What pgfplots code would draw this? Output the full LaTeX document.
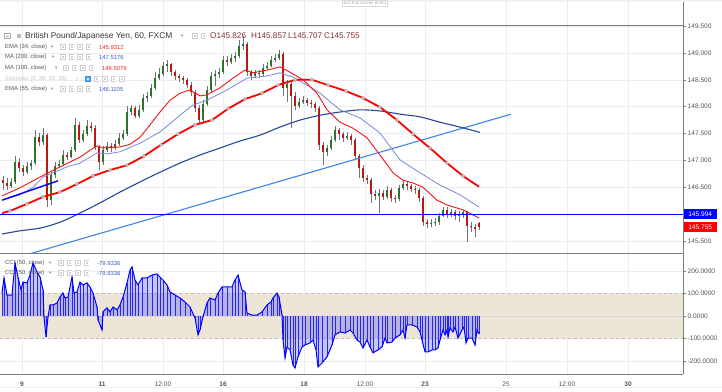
\documentclass[border=0pt]{standalone}
\usepackage{pgfplots}
\pgfplotsset{compat=1.18}
\usepackage{pgfplotstable}
\usepackage{fontspec}
\setmainfont{Liberation Sans}
\newfontfamily\dejavu{DejaVu Sans}

\definecolor{gridc}{RGB}{236,236,236}
\definecolor{framec}{RGB}{125,125,125}
\definecolor{labc}{RGB}{85,85,85}
\definecolor{upc}{RGB}{45,115,45}
\definecolor{dnc}{RGB}{185,25,20}
\definecolor{wickc}{RGB}{115,115,117}
\definecolor{ma200c}{RGB}{40,72,160}
\definecolor{ema55c}{RGB}{115,140,215}
\definecolor{emac}{RGB}{240,20,20}
\definecolor{tlc}{RGB}{60,135,230}
\definecolor{bandc}{RGB}{236,228,211}
\definecolor{valred}{RGB}{235,40,40}
\definecolor{valblue}{RGB}{60,90,190}
\definecolor{ohlcc}{RGB}{130,50,50}
\definecolor{iconc}{RGB}{208,208,208}
\definecolor{eyec}{RGB}{60,150,230}

\pgfplotstableread{
x o h l c
3 146.63 146.71 146.45 146.58
7 146.58 146.67 146.45 146.52
11 146.52 146.67 146.49 146.60
15 146.60 147.08 146.56 146.97
19 146.97 147.04 146.78 146.86
23 146.86 146.91 146.71 146.78
27 146.78 146.97 146.75 146.90
31 146.90 147.01 146.82 146.95
35 146.95 147.57 146.91 147.43
39 147.43 147.51 147.27 147.34
43 147.34 147.60 147.29 147.47
47 147.47 147.51 146.13 146.26
51 146.26 146.78 146.17 146.73
55 146.73 146.97 146.67 146.90
59 146.90 147.01 146.86 146.93
63 146.93 147.19 146.90 147.10
67 147.10 147.16 147.01 147.06
71 147.06 147.25 147.04 147.19
75 147.19 147.79 147.16 147.66
79 147.66 147.71 147.32 147.38
83 147.38 147.57 147.34 147.49
87 147.49 147.75 147.45 147.64
91 147.64 147.71 147.53 147.60
95 147.60 147.66 147.19 147.25
99 147.25 147.29 146.82 146.97
103 146.97 147.27 146.91 147.19
107 147.19 147.34 147.16 147.27
111 147.27 147.32 147.16 147.23
115 147.23 147.38 147.19 147.30
119 147.30 147.51 147.27 147.42
123 147.42 147.57 147.38 147.49
127 147.49 148.01 147.45 147.90
131 147.90 148.03 147.84 147.97
135 147.97 148.01 147.79 147.83
139 147.83 148.03 147.79 147.94
143 147.94 148.23 147.90 148.16
147 148.16 148.27 148.09 148.20
151 148.20 148.42 148.16 148.35
155 148.35 148.64 148.31 148.53
159 148.53 148.72 148.50 148.61
163 148.61 148.83 148.57 148.76
167 148.76 148.87 148.64 148.79
171 148.79 148.81 148.57 148.64
175 148.64 148.68 148.50 148.57
179 148.57 148.61 148.46 148.53
183 148.53 148.57 148.42 148.50
187 148.50 148.53 148.35 148.40
191 148.40 148.46 148.20 148.27
195 148.27 148.31 147.90 147.97
199 147.97 148.03 147.68 147.75
203 147.75 148.12 147.71 148.05
207 148.05 148.38 148.01 148.31
211 148.31 148.64 148.27 148.57
215 148.57 148.68 148.38 148.61
219 148.61 148.72 148.53 148.64
223 148.64 148.94 148.61 148.87
227 148.87 148.94 148.76 148.83
231 148.83 148.98 148.79 148.90
235 148.90 149.02 148.83 148.94
239 148.94 149.24 148.90 149.13
243 149.13 149.31 149.05 149.17
247 149.17 149.20 148.57 148.64
251 148.64 148.68 148.50 148.57
255 148.57 148.68 148.53 148.63
259 148.63 148.68 148.53 148.61
263 148.61 148.79 148.57 148.72
267 148.72 148.83 148.68 148.76
271 148.76 148.94 148.74 148.87
275 148.87 148.98 148.83 148.90
279 148.90 149.05 148.87 148.98
283 148.98 149.02 148.20 148.35
287 148.35 148.50 148.09 148.42
291 148.42 148.46 147.60 148.20
295 148.20 148.27 147.94 148.01
299 148.01 148.16 147.97 148.09
303 148.09 148.20 148.05 148.12
307 148.12 148.16 148.01 148.07
311 148.07 148.12 147.97 148.05
315 148.05 148.09 147.90 147.97
319 147.97 148.01 147.19 147.29
323 147.29 147.34 146.91 147.16
327 147.16 147.29 147.08 147.23
331 147.23 147.45 147.20 147.38
335 147.38 147.64 147.34 147.57
339 147.57 147.60 147.38 147.49
343 147.49 147.53 147.34 147.42
347 147.42 147.53 147.38 147.45
351 147.45 147.49 147.29 147.38
355 147.38 147.42 147.01 147.08
359 147.08 147.12 146.67 146.86
363 146.86 146.91 146.60 146.67
367 146.67 146.73 146.56 146.63
371 146.63 146.67 146.21 146.37
375 146.37 146.45 146.26 146.34
379 146.34 146.47 146.02 146.39
383 146.39 146.45 146.26 146.32
387 146.32 146.52 146.28 146.45
391 146.45 146.49 146.23 146.30
395 146.30 146.36 146.21 146.28
399 146.28 146.54 146.24 146.49
403 146.49 146.63 146.45 146.56
407 146.56 146.62 146.45 146.52
411 146.52 146.56 146.41 146.47
415 146.47 146.52 146.37 146.45
419 146.45 146.49 146.23 146.30
423 146.30 146.34 145.78 145.85
427 145.85 145.91 145.74 145.82
431 145.82 145.91 145.76 145.83
435 145.83 145.93 145.78 145.85
439 145.85 146.02 145.80 145.97
443 145.97 146.13 145.95 146.08
447 146.08 146.13 145.93 146.00
451 146.00 146.10 145.95 146.04
455 146.04 146.08 145.89 145.97
459 145.97 146.06 145.85 146.00
463 146.00 146.08 145.93 146.04
467 146.04 146.06 145.48 145.78
471 145.78 145.85 145.67 145.76
475 145.76 145.82 145.57 145.72
479 145.826 145.857 145.707 145.755
}\candles

\pgfplotstableread{
x v
2 102
4 169
7 93
12 93
15 236
18 173
21 116
23 151
27 147
30 182
33 236
37 196
40 173
43 116
44 -4
46 -93
48 -4
50 49
53 49
57 58
60 84
63 102
65 80
68 84
72 173
74 102
77 107
80 151
83 138
87 147
90 129
93 102
97 40
98 -18
102 -62
103 18
107 36
110 18
113 40
117 27
120 49
123 84
127 147
130 204
132 218
135 160
138 138
142 169
147 169
152 182
157 187
160 173
163 160
167 138
170 107
175 93
180 80
185 62
190 40
195 -9
198 -84
200 -62
203 -4
207 58
210 80
215 71
218 102
222 129
227 129
232 129
235 160
238 182
242 116
245 107
247 13
252 4
257 4
262 18
267 49
271 62
273 80
277 102
279 84
282 4
283 -107
285 -187
287 -138
290 -151
293 -218
295 -231
298 -182
302 -138
305 -129
310 -120
313 -107
316 -151
318 -227
322 -209
327 -182
332 -129
335 -84
340 -71
345 -76
350 -62
353 -76
357 -107
360 -116
363 -142
367 -107
370 -138
373 -164
378 -151
382 -138
385 -98
387 -120
392 -116
395 -98
400 -84
403 -62
405 -98
407 -40
412 -40
417 -49
420 -71
422 -107
425 -160
428 -160
432 -151
435 -151
438 -142
440 -107
443 -62
445 -84
447 -62
448 -93
450 -53
453 -71
455 -49
458 -98
462 -62
464 -49
466 -120
468 -98
472 -98
475 -129
477 -62
479 -79.93
}\cci

\newcommand{\icon}[2]{\fill[iconc] (#1-2.8,#2-2.8) rectangle (#1+2.8,#2+2.8);
  \draw[white,line width=0.45bp] (#1-1.3,#2-1.3) rectangle (#1+1.3,#2+1.3);}
\newcommand{\fouricons}[2]{\icon{#1}{#2}\icon{#1+8.5}{#2}\icon{#1+17}{#2}\icon{#1+25.5}{#2}}
\newcommand{\dd}{{\dejavu\fontsize{4.5}{5}\selectfont ▾}}

\begin{document}
\begin{tikzpicture}[x=1bp,y=1bp]
\fill[white] (0,0) rectangle (722,391);
\fill[gray!10] (0,389) rectangle (722,391);
\foreach \gx in {22,102,163,223,304,365,425,506,567,628}
  \draw[gridc, line width=0.5bp] (\gx,366) -- (\gx,389);

% ---------------- main price panel ----------------
\begin{axis}[
  at={(0bp,138bp)}, anchor=south west,
  width=683bp, height=228bp, scale only axis,
  xmin=0, xmax=683, ymin=145.277, ymax=149.519,
  axis line style={draw=none},
  xtick={22,102,163,223,304,365,425,506,567,628}, xticklabels={},
  xtick style={draw=none},
  ytick={145.5,146.5,147,147.5,148,148.5,149,149.5},
  extra y ticks={146}, extra y tick labels={},
  extra y tick style={ytick style={draw=none}},
  ytick pos=right, yticklabel pos=right,
  ytick style={draw=framec, line width=0.5bp},
  major tick length=3bp, tick align=outside,
  scaled y ticks=false,
  yticklabel style={font=\fontsize{6.6}{7}\selectfont, text=labc, inner sep=1.5bp,
    /pgf/number format/fixed, /pgf/number format/fixed zerofill,
    /pgf/number format/precision=3, /pgf/number format/assume math mode=true},
  grid=major, major grid style={draw=gridc, line width=0.5bp},
]
% wicks
\addplot[draw=none, mark=none, forget plot,
  error bars/.cd, y dir=plus, y explicit, error mark=none,
  error bar style={draw=wickc, line width=0.6bp, solid}]
  table[x=x, y=l, y error plus expr=\thisrow{h}-\thisrow{l}] {\candles};
% up bodies
\addplot[draw=none, mark=none, forget plot,
  restrict expr to domain={\thisrow{c}-\thisrow{o}}{0:10},
  error bars/.cd, y dir=plus, y explicit, error mark=none,
  error bar style={draw=upc, line width=2.2bp, solid}]
  table[x=x, y=o, y error plus expr=\thisrow{c}-\thisrow{o}] {\candles};
% down bodies
\addplot[draw=none, mark=none, forget plot,
  restrict expr to domain={\thisrow{o}-\thisrow{c}}{0.00001:10},
  error bars/.cd, y dir=plus, y explicit, error mark=none,
  error bar style={draw=dnc, line width=2.2bp, solid}]
  table[x=x, y=c, y error plus expr=\thisrow{o}-\thisrow{c}] {\candles};

% light blue trend line
\addplot[tlc, line width=1.1bp] coordinates {(25,145.236) (511,147.86)};
% MA 200
\addplot[ma200c, line width=1.1bp, smooth] coordinates {
(2,145.63) (20,145.69) (40,145.74) (60,145.85) (80,146.02) (100,146.21) (120,146.41)
(140,146.60) (160,146.78) (180,146.95) (200,147.10) (220,147.23) (240,147.36) (260,147.47)
(280,147.62) (300,147.75) (320,147.84) (340,147.90) (360,147.94) (380,147.92) (400,147.86)
(420,147.81) (440,147.71) (460,147.62) (480,147.52)};
% EMA 55
\addplot[ema55c, line width=0.8bp] coordinates {
(2,146.26) (20,146.36) (33,146.50) (43,146.69) (53,146.77) (67,146.88) (80,146.95)
(97,147.14) (107,147.12) (120,147.16) (140,147.32) (160,147.53) (180,147.84) (193,148.03)
(207,148.12) (227,148.31) (247,148.53) (267,148.57) (280,148.63) (293,148.55) (307,148.40)
(320,148.25) (340,147.94) (360,147.79) (380,147.51) (400,147.01) (420,146.77) (440,146.54)
(460,146.36) (479,146.13)};
% EMA 34
\addplot[emac, line width=0.9bp] coordinates {
(2,146.34) (20,146.49) (40,146.69) (60,146.88) (80,147.06) (90,147.19) (97,147.27)
(103,147.23) (120,147.25) (130,147.30) (140,147.43) (150,147.66) (160,147.90) (170,148.12)
(180,148.25) (190,148.31) (200,148.20) (207,148.22) (220,148.35) (233,148.53) (245,148.68)
(253,148.63) (267,148.68) (280,148.74) (290,148.64) (303,148.50) (317,148.25) (327,147.94)
(340,147.71) (353,147.60) (367,147.42) (380,147.10) (393,146.77) (403,146.63) (413,146.58)
(423,146.50) (437,146.26) (447,146.17) (463,146.08) (479,145.93)};
% MA 100
\addplot[red, line width=1.8bp] coordinates {
(2,146.02) (10,146.06) (27,146.19) (43,146.32) (60,146.41) (77,146.56) (93,146.71)
(110,146.82) (127,146.91) (144,147.08) (161,147.29) (178,147.49) (195,147.66) (212,147.75)
(228,147.96) (245,148.14) (262,148.25) (278,148.40) (295,148.50) (312,148.50) (328,148.40)
(346,148.29) (363,148.16) (380,147.99) (397,147.75) (413,147.49) (430,147.23) (447,146.95)
(463,146.71) (479,146.51)};
\addplot[only marks, mark=*, mark size=1.7bp,
  mark options={fill=gray!35, draw=gray!75, line width=0.5bp, solid}] coordinates {
(10,146.06) (27,146.19) (43,146.32) (60,146.41) (77,146.56) (93,146.71)
(110,146.82) (127,146.91) (144,147.08) (161,147.29) (178,147.49) (195,147.66) (212,147.75)
(228,147.96) (245,148.14) (262,148.25) (278,148.40) (295,148.50) (312,148.50) (328,148.40)
(346,148.29) (363,148.16) (380,147.99) (397,147.75) (413,147.49) (430,147.23) (447,146.95)
(463,146.71)};
% short dark blue trend line
\addplot[blue, line width=1.4bp] coordinates {(2,146.26) (58,146.62)};
% horizontal level
\addplot[blue, line width=1.1bp] coordinates {(0,145.994) (683,145.994)};
\end{axis}

% ---------------- CCI panel ----------------
\begin{axis}[
  at={(0bp,17bp)}, anchor=south west,
  width=683bp, height=121bp, scale only axis,
  xmin=0, xmax=683, ymin=-258, ymax=280,
  axis line style={draw=none},
  xtick={22,102,163,223,304,365,425,506,567,628},
  xticklabels={\textbf{9},\textbf{11},12:00,\textbf{16},\textbf{18},12:00,\textbf{23},25,12:00,\textbf{30}},
  xtick style={draw=none},
  xticklabel style={font=\fontsize{6.6}{7}\selectfont, text=labc, yshift=-1bp},
  ytick={-200,-100,0,100,200},
  ytick pos=right, yticklabel pos=right,
  ytick style={draw=framec, line width=0.5bp},
  major tick length=3bp, tick align=outside,
  scaled y ticks=false,
  yticklabel style={font=\fontsize{6.6}{7}\selectfont, text=labc, inner sep=1.5bp,
    /pgf/number format/fixed, /pgf/number format/fixed zerofill,
    /pgf/number format/precision=4, /pgf/number format/assume math mode=true},
  grid=major, major grid style={draw=gridc, line width=0.5bp},
]
\addplot[draw=none, fill=bandc, fill opacity=0.9, forget plot]
  coordinates {(0,-100) (683,-100) (683,100) (0,100)} -- cycle;
\addplot[gray!30, line width=0.5bp, forget plot] coordinates {(0,0) (683,0)};
\addplot[gray!50, dashed, line width=0.5bp, forget plot] coordinates {(0,100) (683,100)};
\addplot[gray!50, dashed, line width=0.5bp, forget plot] coordinates {(0,-100) (683,-100)};
\addplot[draw=none, fill=blue, fill opacity=0.22, forget plot]
  table[x=x, y=v] {\cci} -- (axis cs:479,0) -- (axis cs:2,0) -- cycle;
\addplot[draw=none, mark=none, forget plot,
  error bars/.cd, y dir=minus, y explicit, error mark=none,
  error bar style={draw=blue!85, line width=0.45bp, solid}]
  table[x=x, y=v, y error minus expr=\thisrow{v}] {\cci};
\addplot[blue, line width=1bp, mark=none] table[x=x, y=v] {\cci};
\end{axis}

% ---------------- frame lines ----------------
\draw[framec, line width=0.8bp] (0,366) -- (683,366);
\draw[framec, line width=0.8bp] (0,138) -- (683,138);
\draw[framec, line width=0.8bp] (0,17) -- (683,17);
\draw[framec, line width=0.8bp] (683,17) -- (683,389);
\draw[gray!12, line width=0.5bp] (0,4) -- (722,4);

% price tags
\node[fill=blue, text=white, font=\fontsize{6.6}{7}\selectfont, inner sep=0pt,
  minimum width=33bp, minimum height=10.5bp, anchor=west] at (683.5,177) {145.994};
\node[fill=red, text=white, font=\fontsize{6.6}{7}\selectfont, inner sep=0pt,
  minimum width=33bp, minimum height=10.5bp, anchor=west] at (683.5,164) {145.755};

% exit full screen
\node[draw=gray!30, fill=white, text=gray!70, font=\fontsize{4.3}{5}\selectfont,
  inner sep=1bp, anchor=north] at (365,391) {Exit Full Screen (ESC)};

% title line
\draw[gray!70, line width=0.5bp] (4.5,352.5) rectangle (10,358);
\draw[gray!70, line width=0.5bp] (6,355.25) -- (8.5,355.25);
\fill[gray!55] (16.5,353) rectangle (21,357.5);
\node[anchor=west, inner sep=0pt, font=\fontsize{8.4}{9}\selectfont, text=black!78] at (25,355) {British Pound/Japanese Yen, 60, FXCM};
\node[anchor=west, inner sep=0pt, text=gray] at (181,355) {\dd};
\icon{195}{355}\icon{203.5}{355}
\node[anchor=west, inner sep=0pt, font=\fontsize{8.2}{9}\selectfont, text=ohlcc] at (210,355) {O145.826};
\node[anchor=west, inner sep=0pt, font=\fontsize{8.2}{9}\selectfont, text=ohlcc] at (251,355) {H145.857};
\node[anchor=west, inner sep=0pt, font=\fontsize{8.2}{9}\selectfont, text=ohlcc] at (288,355) {L145.707};
\node[anchor=west, inner sep=0pt, font=\fontsize{8.2}{9}\selectfont, text=ohlcc] at (324,355) {C145.755};

% legend lines
\begin{scope}[every node/.style={anchor=west, inner sep=0pt, font=\fontsize{5.9}{6.5}\selectfont, text=labc}]
\node at (5,344) {EMA (34, close)};
\node[text=gray] at (51,344) {\dd};
\fouricons{63}{344}
\node[text=valred] at (99,344) {145.9312};

\node at (5,334) {MA (200, close)};
\node[text=gray] at (52,334) {\dd};
\fouricons{63}{334}
\node[text=valblue] at (99,334) {147.5176};

\node at (5,323) {MA (100, close)};
\node[text=gray] at (55,323) {\dd};
\fouricons{66}{323}
\node[text=valred] at (102,323) {146.5079};

\node[text=gray!45] at (5,312) {Ichimoku (9, 26, 52, 26)};
\node[text=gray!45] at (76,312) {\dd};
\fill[eyec] (85.2,309.2) rectangle (90.8,314.8);
\draw[white, line width=0.45bp] (88,312) circle (1.3);
\fouricons{96.5}{312}

\node at (5,302) {EMA (55, close)};
\node[text=gray] at (51,302) {\dd};
\fouricons{63}{302}
\node[text=valblue] at (99,302) {146.1105};

\node at (5,128) {CCI (50, close)};
\node[text=gray] at (49,128) {\dd};
\fouricons{61}{128}
\node[text=valblue] at (97,128) {-79.9336};

\node at (5,118) {CCI (50, close)};
\node[text=gray] at (49,118) {\dd};
\fouricons{61}{118}
\node[text=valblue] at (97,118) {-79.9336};
\end{scope}
\pgfresetboundingbox
\path[use as bounding box] (0,0) rectangle (722,391);
\end{tikzpicture}
\end{document}
